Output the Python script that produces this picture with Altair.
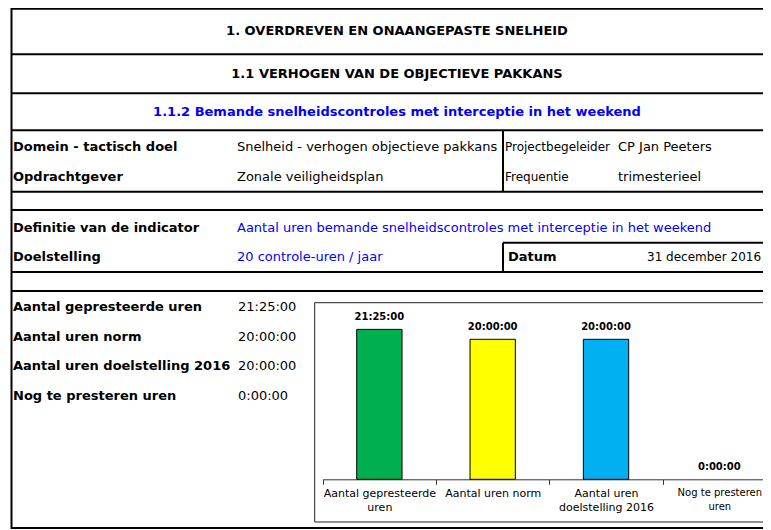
import altair as alt
import pandas as pd

M = 8  # page margin (page px -> plot px)
FONT = "DejaVu Sans"

# ---------------- content ----------------
titles = [
    "1. OVERDREVEN EN ONAANGEPASTE SNELHEID",
    "1.1 VERHOGEN VAN DE OBJECTIEVE PAKKANS",
    "1.1.2 Bemande snelheidscontroles met interceptie in het weekend",
]
title_colors = ["#000000", "#000000", "#0000FF"]

info_keys = ["Domein - tactisch doel", "Opdrachtgever"]
info_vals = ["Snelheid - verhogen objectieve pakkans", "Zonale veiligheidsplan"]
info_keys2 = ["Projectbegeleider", "Frequentie"]
info_vals2 = ["CP Jan Peeters", "trimesterieel"]

def_keys = ["Definitie van de indicator", "Doelstelling"]
def_vals = ["Aantal uren bemande snelheidscontroles met interceptie in het weekend",
            "20 controle-uren / jaar"]
datum_key = "Datum"
datum_val = "31 december 2016"

categories = ["Aantal gepresteerde uren", "Aantal uren norm",
              "Aantal uren doelstelling 2016", "Nog te presteren uren"]
hours = [21.4167, 20.0, 20.0, 0.0]
time_labels = ["21:25:00", "20:00:00", "20:00:00", "0:00:00"]
bar_colors = ["#00B050", "#FFFF00", "#00B0F0", "#FFFFFF"]
axis_label_lines = [["Aantal gepresteerde", "uren"], ["Aantal uren norm"],
                    ["Aantal uren", "doelstelling 2016"], ["Nog te presteren", "uren"]]

# ---------------- layout (page px) ----------------
def P(v):
    return v - M

W, H = 755, 522
XL, XR = 11.5, 785
h_lines = [(XL, XR, y) for y in [8.8, 54.3, 93.3, 130.3, 191.7, 210.0, 272.0, 291.0, 528.0]]
h_lines.append((503, XR, 242.7))
v_lines = [(XL, 8.0, 529.0), (503, 130.3, 191.7), (503, 242.7, 272.0)]

rules = []
for x1, x2, y in h_lines:
    rules.append({"x": P(x1), "x2": P(x2), "y": P(y), "y2": P(y)})
for x, y1, y2 in v_lines:
    rules.append({"x": P(x), "x2": P(x), "y": P(y1), "y2": P(y2)})
rules_df = pd.DataFrame(rules)

def px(field):
    return alt.X(f"{field}:Q", scale=None, axis=None)

def py(field):
    return alt.Y(f"{field}:Q", scale=None, axis=None)

rule_layer = alt.Chart(rules_df).mark_rule(color="black", strokeWidth=2).encode(
    x=px("x"), x2="x2:Q", y=py("y"), y2="y2:Q")

# chart frame
frame_df = pd.DataFrame([{"x": P(314.7), "x2": P(790), "y": P(302.7), "y2": P(522)}])
frame_layer = alt.Chart(frame_df).mark_rect(fillOpacity=0, stroke="#222222", strokeWidth=1).encode(
    x=px("x"), x2="x2:Q", y=py("y"), y2="y2:Q")

# texts
title_df = pd.DataFrame({"x": [P(397)] * 3, "y": [P(31), P(73.8), P(111.8)],
                         "text": titles, "color": title_colors})

bold_left = []
reg_left = []
reg_small = []
for k, v, k2, v2, y in zip(info_keys, info_vals, info_keys2, info_vals2, [147, 176.5]):
    bold_left.append({"x": P(13), "y": P(y), "text": k, "color": "#000000"})
    reg_left.append({"x": P(237), "y": P(y), "text": v, "color": "#000000"})
    reg_small.append({"x": P(505), "y": P(y), "text": k2, "color": "#000000"})
    reg_left.append({"x": P(618), "y": P(y), "text": v2, "color": "#000000"})
for k, v, y in zip(def_keys, def_vals, [227.5, 256.5]):
    bold_left.append({"x": P(13), "y": P(y), "text": k, "color": "#000000"})
    reg_left.append({"x": P(237), "y": P(y), "text": v, "color": "#0000FF"})
bold_left.append({"x": P(508), "y": P(256.5), "text": datum_key, "color": "#000000"})
reg_small.append({"x": P(647), "y": P(256.5), "text": datum_val, "color": "#000000"})
for k, v, y in zip(categories, time_labels, [307, 336.5, 366, 396]):
    bold_left.append({"x": P(13), "y": P(y), "text": k, "color": "#000000"})
    reg_left.append({"x": P(238), "y": P(y), "text": v, "color": "#000000"})

def text_layer(df, bold, align, size=13):
    return alt.Chart(pd.DataFrame(df)).mark_text(
        font=FONT, fontSize=size, fontWeight="bold" if bold else "normal",
        align=align, baseline="middle").encode(
        x=px("x"), y=py("y"), text="text:N",
        color=alt.Color("color:N", scale=None, legend=None))

t_titles = text_layer(title_df, True, "center")
t_bold = text_layer(bold_left, True, "left")
t_reg = text_layer(reg_left, False, "left")
t_small = text_layer(reg_small, False, "left", 12)

# ---------------- bar chart ----------------
bars_df = pd.DataFrame({"cat": categories, "hours": hours, "label": time_labels, "fill": bar_colors})

expr_parts = []
for c, lines in zip(categories, axis_label_lines):
    arr = "[" + ",".join("'" + s + "'" for s in lines) + "]"
    expr_parts.append(f"datum.label == '{c}' ? {arr} : ")
label_expr = "".join(expr_parts) + "datum.label"

x_scale = alt.Scale(range=[P(322.7), P(776)], paddingInner=0, paddingOuter=0)
y_scale = alt.Scale(domain=[0, 25], range=[P(479.3), P(304.3)])
AXIS_Y = P(479.3)

last_cat = categories[-1]
x_axis = alt.Axis(orient="bottom", offset=-(H - AXIS_Y), title=None, labelAngle=0,
                  labelExpr=label_expr, labelFont=FONT,
                  labelFontSize={"condition": {"test": f"datum.value == '{last_cat}'", "value": 10},
                                 "value": 11},
                  labelColor="black",
                  labelLineHeight=14.5, labelPadding=3, labelOverlap=False, labelFlush=False,
                  labelLimit=300, tickBand="extent", tickSize=5, tickColor="#333333",
                  domainColor="#333333", domainWidth=1, tickWidth=1, grid=False)

bars = alt.Chart(bars_df).mark_bar(width=alt.RelativeBandSize(0.4), stroke="black", strokeWidth=1).encode(
    x=alt.X("cat:N", sort=categories, scale=x_scale, axis=x_axis),
    y=alt.Y("hours:Q", scale=y_scale, axis=None),
    fill=alt.Fill("fill:N", scale=None, legend=None),
    strokeOpacity=alt.condition("datum.hours > 0", alt.value(1), alt.value(0)),
)
bar_labels = alt.Chart(bars_df).mark_text(font=FONT, fontSize=10, fontWeight="bold",
                                          baseline="middle", dy=-12.5, color="black").encode(
    x=alt.X("cat:N", sort=categories, scale=x_scale, axis=None),
    y=alt.Y("hours:Q", scale=y_scale, axis=None),
    text="label:N",
)

chart = alt.layer(rule_layer, frame_layer, t_titles, t_bold, t_reg, t_small, bars, bar_labels).resolve_scale(
    x="independent", y="independent"
).properties(
    width=W, height=H, padding=0, autosize=alt.AutoSizeParams(type="none"),
    background="white",
).configure_view(stroke=None)

chart.save("out.html", embed_options={"renderer": "svg", "actions": False})
